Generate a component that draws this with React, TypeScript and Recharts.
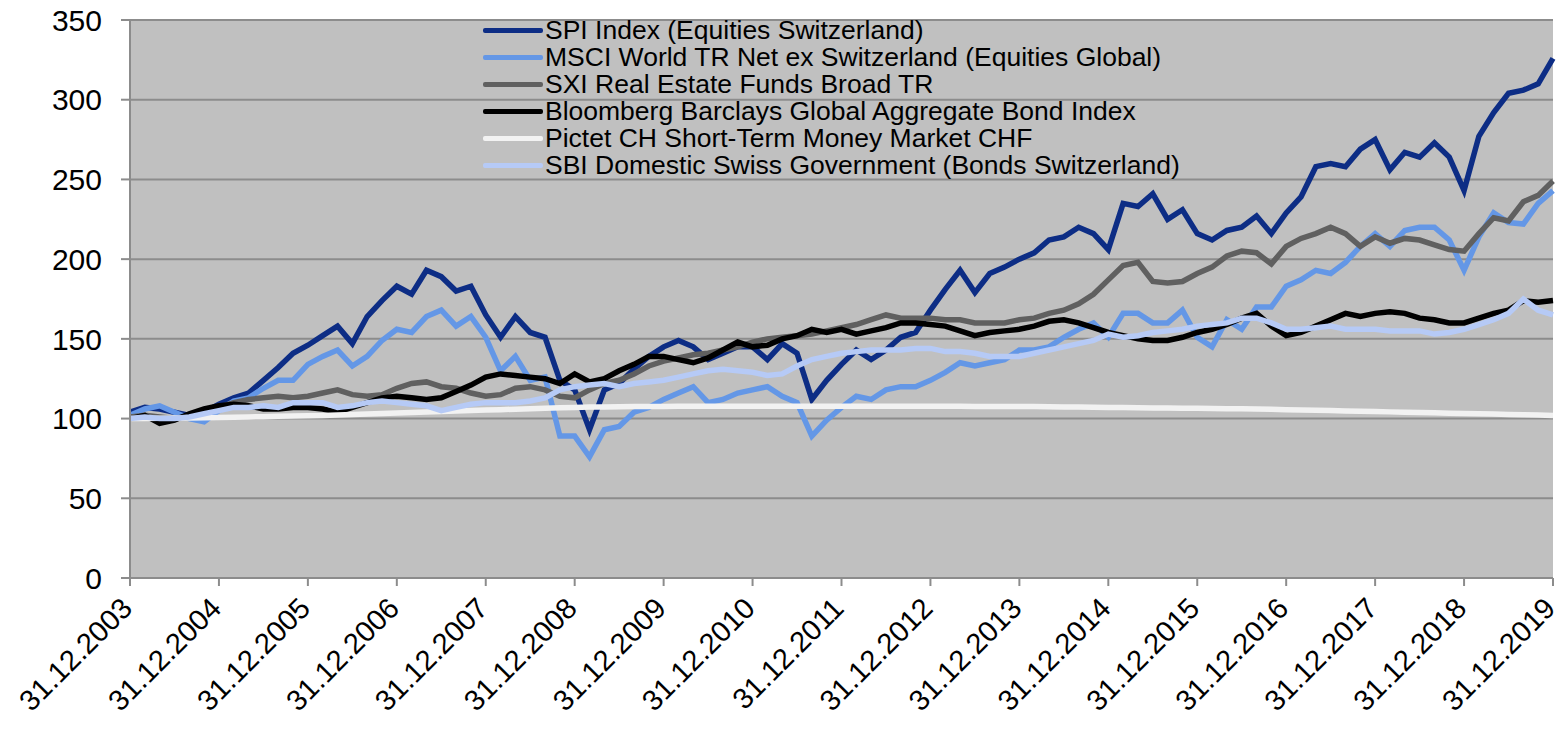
import React from 'react';
import { LineChart, Line, XAxis, YAxis, CartesianGrid } from 'recharts';

// sample dates: every two months from 31.12.2003 to 31.12.2019 (as fractional years)
const dates = Array.from({ length: 97 }, (_, i) => 2004 + i / 6);

const yearTicks = [2004, 2005, 2006, 2007, 2008, 2009, 2010, 2011, 2012, 2013, 2014, 2015, 2016, 2017, 2018, 2019, 2020];
const valueTicks = [0, 50, 100, 150, 200, 250, 300, 350];

const spi = [
  104, 107, 106, 104, 102, 104, 109, 113, 116, 124, 132, 141, 146,
  152, 158, 147, 164, 174, 183, 178, 193, 189, 180, 183, 165,
  151, 164, 154, 151, 124, 118, 93, 118, 122, 131, 139, 145,
  149, 145, 137, 141, 145, 145, 137, 147, 141, 112, 124, 134,
  143, 137, 143, 151, 154, 168, 181, 193, 179, 191, 195, 200,
  204, 212, 214, 220, 216, 206, 235, 233, 241, 225, 231, 216,
  212, 218, 220, 227, 216, 229, 239, 258, 260, 258, 269, 275,
  256, 267, 264, 273, 264, 243, 277, 292, 304, 306, 310, 326,
];

const msci = [
  102, 106, 108, 104, 100, 98, 105, 111, 113, 119, 124, 124, 134,
  139, 143, 133, 139, 149, 156, 154, 164, 168, 158, 164, 151,
  130, 139, 124, 126, 89, 89, 76, 93, 95, 104, 107, 112,
  116, 120, 110, 112, 116, 118, 120, 114, 110, 89, 99, 107,
  114, 112, 118, 120, 120, 124, 129, 135, 133, 135, 137, 143,
  143, 145, 151, 156, 160, 151, 166, 166, 160, 160, 168, 151,
  145, 162, 156, 170, 170, 183, 187, 193, 191, 198, 208, 216,
  208, 218, 220, 220, 212, 193, 214, 229, 223, 222, 235, 243,
];

const sxi = [
  101, 102, 101, 100, 102, 103, 107, 110, 112, 113, 114, 113, 114,
  116, 118, 115, 114, 115, 119, 122, 123, 120, 119, 116, 114,
  115, 119, 120, 118, 114, 113, 118, 122, 124, 128, 133, 136,
  138, 140, 141, 143, 145, 148, 150, 151, 152, 153, 155, 157,
  159, 162, 165, 163, 163, 163, 162, 162, 160, 160, 160, 162,
  163, 166, 168, 172, 178, 187, 196, 198, 186, 185, 186, 191,
  195, 202, 205, 204, 197, 208, 213, 216, 220, 216, 208, 214,
  210, 213, 212, 209, 206, 205, 216, 226, 224, 236, 240, 249,
];

const bloomberg = [
  100, 102, 97, 99, 103, 106, 108, 109, 108, 106, 106, 107, 107,
  106, 104, 107, 110, 113, 114, 113, 112, 113, 117, 121, 126,
  128, 127, 126, 125, 122, 128, 123, 125, 130, 134, 139, 139,
  137, 135, 138, 143, 148, 145, 146, 150, 152, 156, 154, 156,
  153, 155, 157, 160, 160, 159, 158, 155, 152, 154, 155, 156,
  158, 161, 162, 160, 157, 154, 152, 150, 149, 149, 151, 154,
  156, 159, 163, 166, 158, 152, 154, 158, 162, 166, 164, 166,
  167, 166, 163, 162, 160, 160, 163, 166, 168, 174, 173, 174,
];

const pictet = [
  100, 100.1, 100.2, 100.3, 100.4, 100.5, 100.6, 100.8, 101, 101.2, 101.4, 101.6, 101.8,
  102, 102.3, 102.6, 102.9, 103.2, 103.5, 103.8, 104.1, 104.4, 104.7, 105, 105.3,
  105.6, 105.9, 106.2, 106.5, 106.8, 107, 107.2, 107.3, 107.4, 107.5, 107.6, 107.6,
  107.7, 107.7, 107.7, 107.7, 107.7, 107.7, 107.7, 107.7, 107.7, 107.7, 107.7, 107.7,
  107.7, 107.7, 107.7, 107.7, 107.7, 107.7, 107.7, 107.7, 107.6, 107.6, 107.6, 107.6,
  107.5, 107.4, 107.3, 107.2, 107.1, 107, 106.9, 106.8, 106.7, 106.6, 106.5, 106.4,
  106.3, 106.2, 106.1, 106, 105.8, 105.6, 105.4, 105.2, 105, 104.8, 104.6, 104.4,
  104.2, 104, 103.8, 103.6, 103.4, 103.2, 103, 102.8, 102.6, 102.4, 102.2, 102,
];

const sbi = [
  100, 101, 100, 100, 101, 103, 105, 107, 107, 108, 107, 110, 110,
  110, 107, 108, 110, 111, 110, 109, 108, 105, 107, 109, 110,
  110, 110, 111, 113, 118, 120, 121, 122, 120, 122, 123, 124,
  126, 128, 130, 131, 130, 129, 127, 128, 133, 137, 139, 141,
  142, 143, 143, 143, 144, 144, 142, 142, 141, 139, 139, 139,
  141, 143, 145, 147, 149, 153, 151, 152, 154, 155, 156, 158,
  159, 160, 163, 163, 160, 156, 156, 157, 158, 156, 156, 156,
  155, 155, 155, 153, 154, 156, 159, 162, 166, 175, 168, 165,
];

const series = [
  { key: 'spi', name: 'SPI Index (Equities Switzerland)', color: '#0D2D85', values: spi },
  { key: 'msci', name: 'MSCI World TR Net ex Switzerland (Equities Global)', color: '#6497E6', values: msci },
  { key: 'sxi', name: 'SXI Real Estate Funds Broad TR', color: '#606060', values: sxi },
  { key: 'bbg', name: 'Bloomberg Barclays Global Aggregate Bond Index', color: '#000000', values: bloomberg },
  { key: 'pictet', name: 'Pictet CH Short-Term Money Market CHF', color: '#F2F2F2', values: pictet },
  { key: 'sbi', name: 'SBI Domestic Swiss Government (Bonds Switzerland)', color: '#B6CAF6', values: sbi },
];

const data = dates.map((t, i) => {
  const row: Record<string, number> = { t };
  series.forEach((s) => {
    row[s.key] = s.values[i];
  });
  return row;
});

const FONT = '"Liberation Sans", Arial, sans-serif';

const XTick = ({ x, y, payload }: any) => (
  <g transform={`translate(${x},${y})`}>
    <text
      x={4}
      y={22}
      textAnchor="end"
      transform="rotate(-45 4 22)"
      fontSize={29}
      fontFamily={FONT}
      fill="#000"
    >
      {`31.12.${payload.value - 1}`}
    </text>
  </g>
);

export default function App() {
  return (
    <div
      style={{
        position: 'fixed',
        left: 0,
        top: 0,
        width: 1562,
        height: 730,
        background: '#fff',
        fontFamily: FONT,
      }}
    >
      <LineChart width={1562} height={730} data={data} margin={{ top: 20, right: 9, left: 0, bottom: 0 }}>
        <CartesianGrid vertical={false} fill="#C0C0C0" stroke="#8C8C8C" strokeWidth={2} />
        <XAxis
          dataKey="t"
          type="number"
          domain={[2004, 2020]}
          ticks={yearTicks}
          interval={0}
          height={152}
          tick={<XTick />}
          tickSize={8}
          axisLine={{ stroke: '#8C8C8C', strokeWidth: 2 }}
          tickLine={{ stroke: '#8C8C8C', strokeWidth: 2 }}
        />
        <YAxis
          domain={[0, 350]}
          ticks={valueTicks}
          interval={0}
          width={130}
          tickSize={9}
          tickMargin={19}
          tick={{ fontSize: 30, fill: '#000', fontFamily: FONT }}
          axisLine={{ stroke: '#8C8C8C', strokeWidth: 2 }}
          tickLine={{ stroke: '#8C8C8C', strokeWidth: 2 }}
        />
        {series.map((s) => (
          <Line
            key={s.key}
            type="linear"
            dataKey={s.key}
            name={s.name}
            stroke={s.color}
            strokeWidth={5.5}
            dot={false}
            isAnimationActive={false}
          />
        ))}
      </LineChart>

      {/* Legend */}
      <div style={{ position: 'absolute', left: 483, top: 17 }}>
        {series.map((s) => (
          <div key={s.key} style={{ display: 'flex', alignItems: 'center', height: 27 }}>
            <div style={{ width: 60, height: 5, background: s.color, borderRadius: 2 }} />
            <span style={{ marginLeft: 2, fontSize: 26.5, lineHeight: '27px', color: '#000', whiteSpace: 'nowrap' }}>
              {s.name}
            </span>
          </div>
        ))}
      </div>
    </div>
  );
}
